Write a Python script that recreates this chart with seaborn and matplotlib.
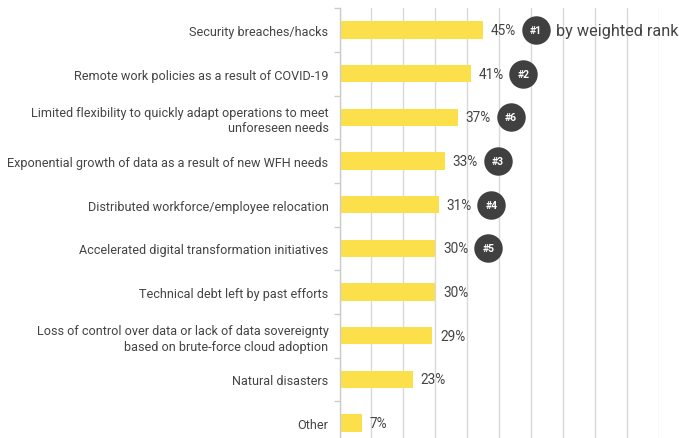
import matplotlib
matplotlib.use("Agg")
import matplotlib.pyplot as plt
import seaborn as sns
import numpy as np
import pandas as pd

categories = [
    "Security breaches/hacks",
    "Remote work policies as a result of COVID-19",
    "Limited flexibility to quickly adapt operations to meet\nunforeseen needs",
    "Exponential growth of data as a result of new WFH needs",
    "Distributed workforce/employee relocation",
    "Accelerated digital transformation initiatives",
    "Technical debt left by past efforts",
    "Loss of control over data or lack of data sovereignty\nbased on brute-force cloud adoption",
    "Natural disasters",
    "Other",
]
values = [45, 41, 37, 33, 31, 30, 30, 29, 23, 7]
ranks = ["#1", "#2", "#6", "#3", "#4", "#5", None, None, None, None]
value_labels = [f"{v}%" for v in values]

sns.set_theme(style="white")
plt.rcParams['font.family'] = ['Roboto', 'DejaVu Sans']

df = pd.DataFrame({"category": categories, "value": values})

fig = plt.figure(figsize=(6.79, 4.39), dpi=100)
ax = fig.add_axes([339.5 / 679, 0, (659.3 - 339.5) / 679, 1 - 9.2 / 439])

sns.barplot(data=df, y="category", x="value", orient="h", color="#FCE04B",
            width=0.40, saturation=1, ax=ax, edgecolor="none")

ax.set_xticks(np.arange(0, 101, 10))
ax.set_xticklabels([])
ax.tick_params(axis="x", length=0)
ax.xaxis.grid(True, color="#d9d9d9", linewidth=1)
ax.set_axisbelow(True)
for s in ["top", "right", "bottom"]:
    ax.spines[s].set_visible(False)
ax.spines["left"].set_color("#cccccc")
ax.spines["left"].set_linewidth(1)
ax.set_xlabel("")
ax.set_ylabel("")

ax.set_yticks(range(len(categories)))
ax.set_yticklabels(categories, fontsize=9.1, color="#444444", linespacing=1.25)
ax.set_yticks(np.arange(-0.5, len(categories), 1), minor=True)
ax.tick_params(axis="y", which="major", length=0, pad=8)
ax.tick_params(axis="y", which="minor", length=4, color="#cccccc", width=1, left=True)

ax.set_xlim(0, 100)
ax.set_ylim(9.343, -0.5)

for i, (v, lab) in enumerate(zip(values, value_labels)):
    ax.annotate(lab, xy=(v, i), xytext=(5.5, 0), textcoords="offset points",
                va="center", ha="left", fontsize=9.8, color="#444444")

rank_x = []
rank_y = []
for i, (v, r) in enumerate(zip(values, ranks)):
    if r is None:
        continue
    rank_x.append(v + 16.5)
    rank_y.append(i)
ax.scatter(rank_x, rank_y, s=420, color="#404040", zorder=5, clip_on=False, linewidths=0)
for x, y, r in zip(rank_x, rank_y, [r for r in ranks if r]):
    ax.text(x, y, r, ha="center", va="center", color="white", fontsize=7.5,
            fontweight="bold", zorder=6)

ax.annotate("by weighted rank", xy=(rank_x[0], 0), xytext=(14.5, 0),
            textcoords="offset points", va="center", ha="left",
            fontsize=11.7, color="#444444", annotation_clip=False)

fig.savefig("out.png", dpi=100)
